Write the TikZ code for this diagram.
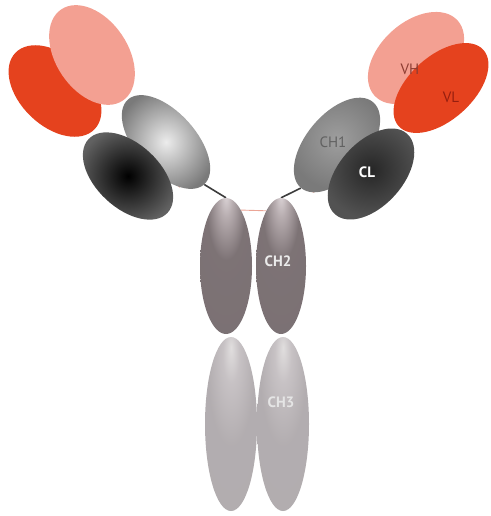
\documentclass[tikz,border=0pt]{standalone}
\usepackage{fontspec}
\newfontfamily\labfont{PT Sans}
\usetikzlibrary{shapes.geometric,backgrounds,calc}

% domain colours
\definecolor{vhcol}{RGB}{243,160,146}
\definecolor{vlcol}{RGB}{229,66,30}
\definecolor{vhtext}{RGB}{140,60,50}
\definecolor{vltext}{RGB}{150,30,15}
\definecolor{hingecol}{RGB}{60,60,60}
\definecolor{bondcol}{RGB}{235,165,150}

% Fc domains: highlight sits in the upper part of each ellipse
\pgfdeclareradialshading{chtwoshade}{\pgfpoint{0bp}{26bp}}{%
  rgb(0bp)=(0.86,0.83,0.84);rgb(6bp)=(0.72,0.68,0.69);
  rgb(18bp)=(0.49,0.45,0.46);rgb(80bp)=(0.47,0.43,0.44)}
\pgfdeclareradialshading{chthreeshade}{\pgfpoint{0bp}{22bp}}{%
  rgb(0bp)=(0.88,0.87,0.87);rgb(8bp)=(0.78,0.76,0.77);
  rgb(22bp)=(0.70,0.68,0.69);rgb(80bp)=(0.69,0.67,0.68)}

\tikzset{
  igdom/.style={ellipse, inner sep=0pt},
  vh/.style={igdom, fill=vhcol},
  vl/.style={igdom, fill=vlcol},
  chone/.style={igdom, shading=radial, inner color=white!85!gray, outer color=black!52},
  chonemat/.style={igdom, shading=radial, inner color=black!38, outer color=black!52},
  clight/.style={igdom, shading=radial, inner color=black, outer color=black!62},
  cldark/.style={igdom, shading=radial, inner color=black!85, outer color=black!68},
  chtwo/.style={igdom, shading=chtwoshade},
  chthree/.style={igdom, shading=chthreeshade},
  hinge/.style={draw=hingecol, line width=1.6pt},
  bond/.style={draw=bondcol, line width=0.9pt},
  lab/.style={font=\labfont\fontsize{15}{15}\selectfont},
  labb/.style={font=\labfont\bfseries\fontsize{15}{15}\selectfont},
}

\begin{document}
\begin{tikzpicture}[x=1pt, y=-1pt]
\useasboundingbox (0,0) rectangle (490,516);

% Fc region
\node[chtwo, minimum width=52pt, minimum height=136pt] (ch2l) at (226,266) {};
\node[chtwo, minimum width=50pt, minimum height=136pt] (ch2r) at (281,266) {};
\node[chthree, minimum width=52pt, minimum height=174pt] (ch3l) at (231,424) {};
\node[chthree, minimum width=52pt, minimum height=174pt] (ch3r) at (283,424) {};

% left Fab arm
\node[vl, minimum width=70pt, minimum height=110pt, rotate=46] (vll) at (55,91) {};
\node[vh, minimum width=72pt, minimum height=110pt, rotate=34] (vhl) at (92,55) {};
\node[chone, minimum width=60pt, minimum height=114pt, rotate=42] (ch1l) at (166,142) {};
\node[clight, minimum width=64pt, minimum height=108pt, rotate=47] (cll) at (128,176) {};

% right Fab arm
\node[vh, minimum width=72pt, minimum height=112pt, rotate=-48] (vhr) at (416,58) {};
\node[vl, minimum width=64pt, minimum height=114pt, rotate=-48] (vlr) at (441,88) {};
\node[chonemat, minimum width=62pt, minimum height=112pt, rotate=-40] (ch1r) at (337,145) {};
\node[cldark, minimum width=64pt, minimum height=108pt, rotate=-42] (clr) at (371,174) {};

% hinge and disulfide bonds behind the domains
\begin{scope}[on background layer]
  \draw[hinge] (ch1l.south) -- (ch2l.north);
  \draw[hinge] (ch1r.south) -- (ch2r.north);
  \draw[bond] (ch2l.75) -- (ch2r.105);
  \draw[bond] (ch1l.-115) -- (cll.-50);
  \draw[bond] (ch1r.-77) -- (clr.-125);
\end{scope}

% domain labels
\node[lab, text=vhtext] at (410,69) {VH};
\node[lab, text=vltext] at (451,97) {VL};
\node[lab, text=black!62] at (333,142) {CH1};
\node[labb, text=white] at (367,172) {CL};
\node[labb, text=white!92!black] at (278,261) {CH2};
\node[labb, text=white!90!black] at (281,402) {CH3};
\end{tikzpicture}
\end{document}
